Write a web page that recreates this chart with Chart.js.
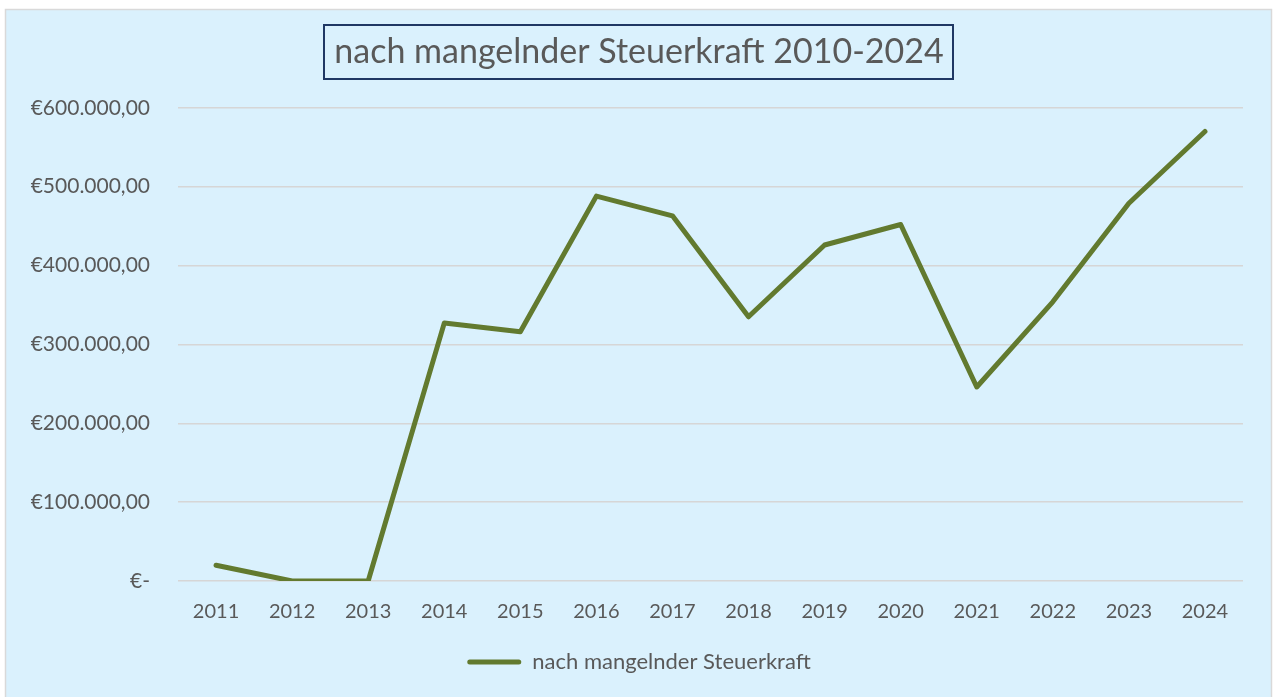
<!DOCTYPE html>
<html>
<head>
<meta charset="utf-8">
<script src="https://cdn.jsdelivr.net/npm/chart.js@4/dist/chart.umd.min.js"></script>
<style>
html,body{margin:0;padding:0;background:#ffffff;}
#wrap{position:relative;width:1273px;height:697px;}
</style>
</head>
<body>
<div id="wrap"><canvas id="c" width="1273" height="697"></canvas></div>
<script>
const years = ['2011','2012','2013','2014','2015','2016','2017','2018','2019','2020','2021','2022','2023','2024'];
const values = [20000, 0, 0, 327000, 316000, 488000, 463000, 335000, 426000, 452000, 246000, 354000, 479000, 570000];
const seriesName = 'nach mangelnder Steuerkraft';
const chartTitle = 'nach mangelnder Steuerkraft 2010-2024';
const yTicks = [0, 100000, 200000, 300000, 400000, 500000, 600000];

const FONT = 'Lato, "Open Sans", sans-serif';
const TEXT = '#595959';
const LINE = '#627A2F';
const TITLE_SIZE = 34;

function euro(v){
  if (v === 0) return '€-';
  const s = Math.round(v).toString().replace(/\B(?=(\d{3})+(?!\d))/g, '.');
  return '€' + s + ',00';
}

const framePlugin = {
  id: 'frame',
  beforeDraw(chart){
    const ctx = chart.ctx;
    ctx.save();
    ctx.fillStyle = '#ffffff';
    ctx.fillRect(0,0,chart.width,chart.height);
    ctx.fillStyle = '#DAF1FD';
    ctx.fillRect(6,10,1265,700);
    ctx.strokeStyle = '#D9D9D9';
    ctx.lineWidth = 1.5;
    ctx.strokeRect(5.5,9.5,1266,710);
    ctx.restore();
  },
  afterDraw(chart){
    const tb = chart.titleBlock;
    if (!tb) return;
    const ctx = chart.ctx;
    ctx.save();
    ctx.font = TITLE_SIZE + 'px ' + FONT;
    const w = ctx.measureText(chartTitle).width;
    const cx = (tb.left + tb.right) / 2;
    ctx.strokeStyle = '#1F3864';
    ctx.lineWidth = 2;
    ctx.strokeRect(Math.round(cx - w/2 - 10), 25, Math.round(w + 20), 54);
    ctx.restore();
  }
};

new Chart(document.getElementById('c'), {
  type: 'line',
  data: {
    labels: years,
    datasets: [{
      label: seriesName,
      data: values,
      borderColor: LINE,
      backgroundColor: LINE,
      borderWidth: 5,
      pointRadius: 0,
      pointHoverRadius: 0,
      tension: 0,
      borderCapStyle: 'round',
      borderJoinStyle: 'round',
      fill: false
    }]
  },
  options: {
    responsive: false,
    animation: false,
    layout: { padding: { left: 20, right: 15, top: 0, bottom: 14 } },
    plugins: {
      tooltip: { enabled: false },
      title: {
        display: true,
        text: chartTitle,
        color: TEXT,
        font: { family: FONT, size: TITLE_SIZE, weight: 'normal', lineHeight: 1.2 },
        padding: { top: 32, bottom: 35 }
      },
      legend: {
        display: true,
        position: 'bottom',
        labels: {
          color: TEXT,
          font: { family: FONT, size: 22 },
          boxWidth: 54,
          boxHeight: 5,
          padding: 10,
          generateLabels(chart){
            return [{
              text: seriesName,
              fillStyle: LINE,
              strokeStyle: LINE,
              lineWidth: 0,
              borderRadius: 2.5,
              datasetIndex: 0,
              hidden: false,
              fontColor: TEXT
            }];
          }
        }
      }
    },
    scales: {
      x: {
        offset: true,
        grid: { display: false, drawTicks: false },
        border: { display: false },
        ticks: { color: TEXT, font: { family: FONT, size: 20 }, padding: 19, maxRotation: 0 },
        afterFit(scale){ scale.height = 60; }
      },
      y: {
        min: 0,
        max: 600000,
        afterBuildTicks(scale){ scale.ticks = yTicks.map(v => ({ value: v })); },
        grid: { color: '#D6D6D6', lineWidth: 1.5, drawTicks: false },
        border: { display: false },
        ticks: { color: TEXT, font: { family: FONT, size: 21 }, padding: 28, callback: (v) => euro(v) },
        afterFit(scale){ scale.width = 158; }
      },
      yRight: {
        position: 'right',
        display: true,
        min: 0,
        max: 600000,
        grid: { display: false, drawTicks: false },
        border: { display: false },
        ticks: { display: false },
        afterFit(scale){ scale.width = 15; }
      }
    }
  },
  plugins: [framePlugin]
});
</script>
</body>
</html>
